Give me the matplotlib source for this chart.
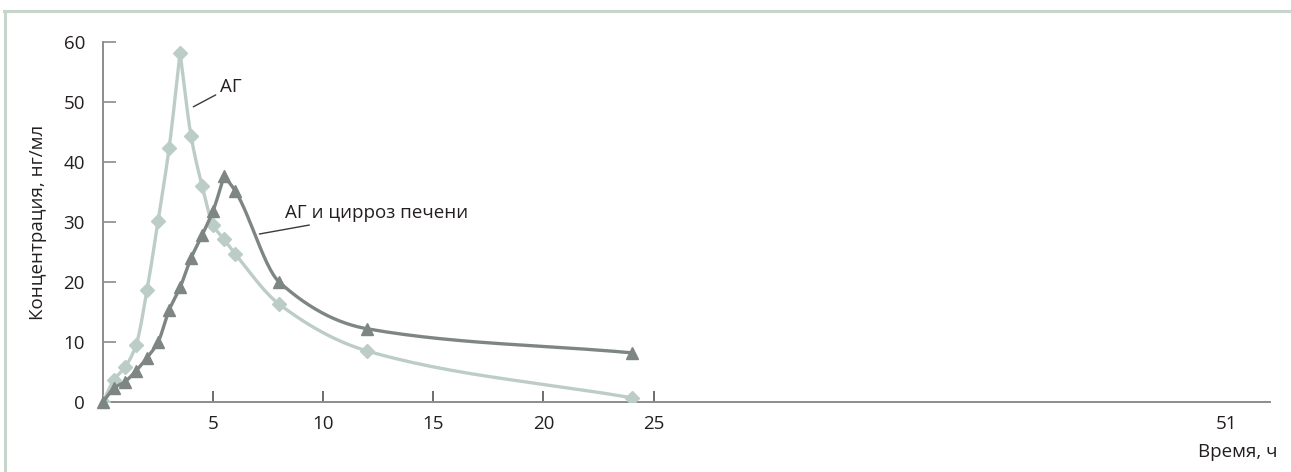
import numpy as np
import matplotlib.pyplot as plt
from matplotlib.lines import Line2D

# Время после приёма, ч
hours = [0, 0.5, 1, 1.5, 2, 2.5, 3, 3.5, 4, 4.5, 5, 5.5, 6, 8, 12, 24]
# Концентрация, нг/мл
conc_ag = [0, 3.7, 5.8, 9.5, 18.7, 30.2, 42.3, 58.2, 44.3, 36.0, 29.5, 27.1, 24.7, 16.3, 8.5, 0.7]
conc_cirrhosis = [0, 2.3, 3.4, 5.2, 7.4, 10.0, 15.3, 19.1, 24.0, 27.8, 31.9, 37.7, 35.2, 20.0, 12.2, 8.2]

x_ticks = [5, 10, 15, 20, 25, 51]

light = '#bccdc7'
dark = '#7e8684'
text_col = '#231f20'


def smooth_curve(x, y, n=30):
    # кубическая эрмитова кривая: гладко на монотонных участках, острый излом на пиках
    x = np.asarray(x, float)
    y = np.asarray(y, float)
    h = np.diff(x)
    d = np.diff(y) / h
    m_in = np.zeros_like(y)
    m_out = np.zeros_like(y)
    m_in[0] = m_out[0] = d[0]
    m_in[-1] = m_out[-1] = d[-1]
    for k in range(1, len(x) - 1):
        if d[k - 1] * d[k] > 0:
            w1 = 2 * h[k] + h[k - 1]
            w2 = h[k] + 2 * h[k - 1]
            m_in[k] = m_out[k] = (w1 + w2) / (w1 / d[k - 1] + w2 / d[k])
        else:
            m_in[k], m_out[k] = d[k - 1], d[k]
    xs, ys = [], []
    t = np.linspace(0, 1, n)
    h00 = 2 * t**3 - 3 * t**2 + 1
    h10 = t**3 - 2 * t**2 + t
    h01 = -2 * t**3 + 3 * t**2
    h11 = t**3 - t**2
    for k in range(len(x) - 1):
        xs.append(x[k] + t * h[k])
        ys.append(h00 * y[k] + h10 * h[k] * m_out[k] + h01 * y[k + 1] + h11 * h[k] * m_in[k + 1])
    return np.concatenate(xs), np.concatenate(ys)


plt.rcParams['font.family'] = ['Open Sans', 'DejaVu Sans']

fig = plt.figure(figsize=(12.91, 4.72), dpi=100)
ax = fig.add_axes([0.0798, 0.1483, 0.9040, 0.7627])

sx, sy = smooth_curve(hours, conc_ag)
ax.plot(sx, sy, color=light, lw=2.4, solid_capstyle='round', zorder=2)
ax.plot(hours, conc_ag, ls='none', marker='D', ms=7, color=light, zorder=3)

sx, sy = smooth_curve(hours, conc_cirrhosis)
ax.plot(sx, sy, color=dark, lw=2.4, solid_capstyle='round', zorder=4)
ax.plot(hours, conc_cirrhosis, ls='none', marker='^', ms=8.5, color=dark, zorder=5,
        clip_on=False)

# подписи кривых с выносками
ax.annotate('АГ', xy=(4.1, 49.2), xytext=(5.3, 52.5), fontsize=13.5,
            color=text_col, va='center', ha='left',
            arrowprops=dict(arrowstyle='-', color='#3a3a3a', lw=1.0, shrinkA=1, shrinkB=0))
ax.annotate('АГ и цирроз печени', xy=(7.1, 28.0), xytext=(8.25, 31.5), fontsize=13.5,
            color=text_col, va='center', ha='left',
            arrowprops=dict(arrowstyle='-', color='#3a3a3a', lw=1.0, shrinkA=1, shrinkB=0))

ax.set_xlim(0, 53)
ax.set_ylim(0, 60)
ax.set_xticks(x_ticks)
ax.set_xticklabels([str(t) for t in x_ticks])
ax.set_yticks(range(0, 61, 10))
ax.xaxis.get_major_ticks()[-1].tick1line.set_visible(False)

for side in ['top', 'right']:
    ax.spines[side].set_visible(False)
for side in ['left', 'bottom']:
    ax.spines[side].set_color('#8c8c8c')
    ax.spines[side].set_linewidth(1.4)

ax.tick_params(axis='y', direction='in', length=9, width=1.2, color='#8c8c8c',
               pad=13, labelsize=13.5, labelcolor=text_col)
ax.tick_params(axis='x', direction='in', length=8, width=1.2, color='#555555',
               pad=9, labelsize=13.5, labelcolor=text_col)

ax.set_ylabel('Концентрация, нг/мл', fontsize=13.5, color=text_col, labelpad=12)
fig.text(0.9895, 0.042, 'Время, ч', ha='right', va='center', fontsize=13.5, color=text_col)

# рамка вокруг рисунка
frame = '#c6d6cc'
fig.add_artist(Line2D([0.003, 1.0], [0.977, 0.977], color=frame, lw=2.2))
fig.add_artist(Line2D([0.0035, 0.0035], [0.0, 0.977], color=frame, lw=2.2))

fig.savefig('out.png', dpi=100, facecolor='white')
